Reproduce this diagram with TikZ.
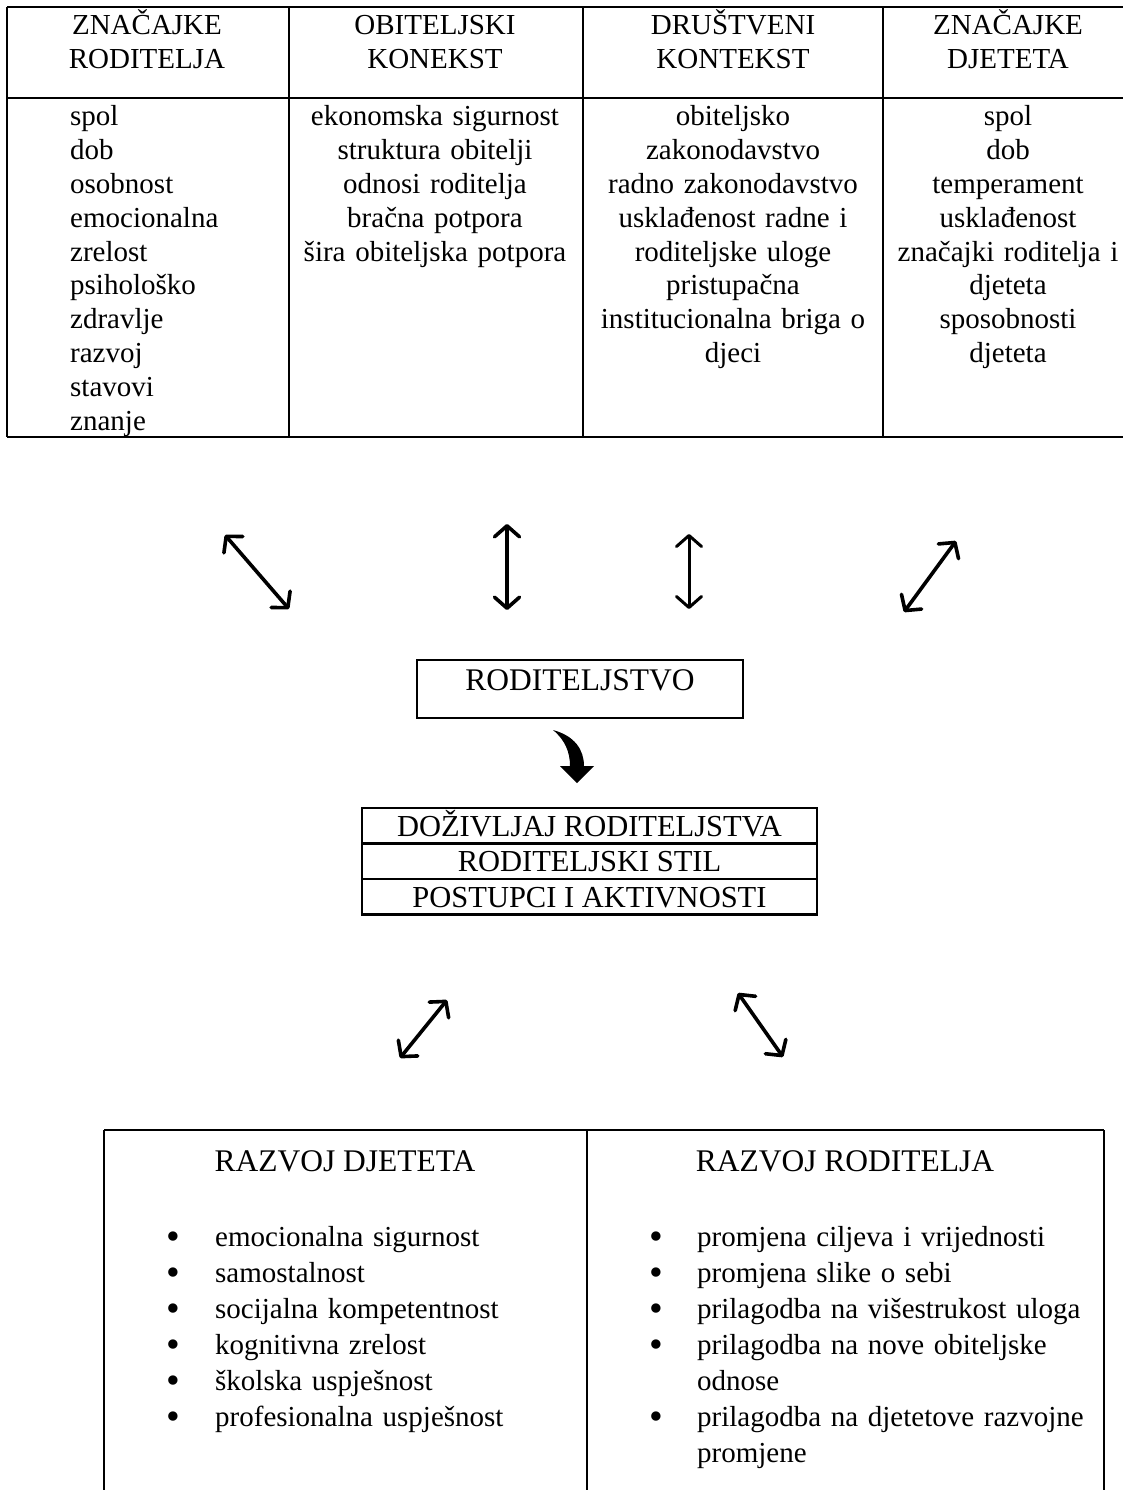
\documentclass[tikz,border=0pt]{standalone}
\usepackage{fontspec}
\usepackage{graphicx}
\setmainfont{Liberation Serif}
\usetikzlibrary{arrows.meta}

% 列表的圆点
\newcommand{\blt}{\raisebox{-3pt}{\scalebox{1.35}{\textbullet}}}

\begin{document}
\begin{tikzpicture}[x=1pt, y=-1pt,
  cell/.style={inner sep=0pt, anchor=base, align=center, font={\fontsize{29}{33.8}\selectfont}},
  head/.style={inner sep=0pt, anchor=base, align=center, font={\fontsize{31.5}{36}\selectfont}},
  item/.style={inner sep=0pt, anchor=base west, align=left, font={\fontsize{29}{36}\selectfont}},
  frame/.style={draw, line width=2.4pt, inner sep=0pt, anchor=base},
  rule/.style={line width=2pt},
  biarrow/.style={{Straight Barb[length=11pt,width=25pt,round]}-{Straight Barb[length=11pt,width=25pt,round]}, line width=3.6pt, line cap=round}]

  % 固定画布大小
  \useasboundingbox (0,0) rectangle (1123,1490);

  % 上方表格的线
  \draw[rule] (7,7) -- (1123,7);
  \draw[rule] (7,98) -- (1123,98);
  \draw[rule] (7,437) -- (1123,437);
  \draw[rule] (7,7) -- (7,437);
  \draw[rule] (289,7) -- (289,437);
  \draw[rule] (583,7) -- (583,437);
  \draw[rule] (883,7) -- (883,437);

  % 表头
  \node[cell, text width=270pt] (hrod) at (147,35) {ZNAČAJKE\\RODITELJA};
  \node[cell, text width=280pt] (hobi) at (435,35) {OBITELJSKI\\KONEKST};
  \node[cell, text width=290pt] (hdru) at (733,35) {DRUŠTVENI\\KONTEKST};
  \node[cell, text width=240pt] (hdje) at (1008,35) {ZNAČAJKE\\DJETETA};

  % 表格内容
  \node[cell, anchor=base west, align=left, text width=210pt] (brod) at (70,126)
    {spol\\dob\\osobnost\\emocionalna\\zrelost\\psihološko\\zdravlje\\razvoj\\stavovi\\znanje};
  \node[cell, text width=280pt] (bobi) at (435,126)
    {ekonomska sigurnost\\struktura obitelji\\odnosi roditelja\\bračna potpora\\šira obiteljska potpora};
  \node[cell, text width=290pt] (bdru) at (733,126)
    {obiteljsko\\zakonodavstvo\\radno zakonodavstvo\\usklađenost radne i\\roditeljske uloge\\pristupačna\\institucionalna briga o\\djeci};
  \node[cell, text width=240pt] (bdje) at (1008,126)
    {spol\\dob\\temperament\\usklađenost\\značajki roditelja i\\djeteta\\sposobnosti\\djeteta};

  % 四个双向箭头
  \coordinate (z1a) at (225,535);
  \coordinate (z1b) at (289,609);
  \coordinate (z2a) at (507,524);
  \coordinate (z2b) at (507,610);
  \coordinate (z3a) at (689,534);
  \coordinate (z3b) at (689,609);
  \coordinate (z4a) at (904,612);
  \coordinate (z4b) at (956,541);
  \draw[biarrow] (z1a) -- (z1b);
  \draw[biarrow] (z2a) -- (z2b);
  \draw[biarrow, line width=3pt] (z3a) -- (z3b);
  \draw[biarrow] (z4a) -- (z4b);

  % 中间的框
  \node[frame, minimum width=326pt, text height=30pt, text depth=28pt,
    font={\fontsize{31.5}{36}\selectfont}] (rod) at (580,690) {RODITELJSTVO};

  % 弯箭头
  \fill (553,730) .. controls (575,736) and (584,750) .. (584,766) -- (594,766)
    -- (577,783) -- (560,766) -- (570,766) .. controls (570,752) and (565,740) .. (553,730) -- cycle;

  % 三行的框
  \node[frame, minimum width=455pt, text height=28pt, text depth=7.5pt,
    font={\fontsize{30.5}{36}\selectfont}] (dozivljaj) at (589.5,836) {DOŽIVLJAJ RODITELJSTVA};
  \node[frame, minimum width=455pt, text height=28pt, text depth=7.5pt,
    font={\fontsize{30.5}{36}\selectfont}] (stil) at (589.5,871.5) {RODITELJSKI STIL};
  \node[frame, minimum width=455pt, text height=28pt, text depth=7.5pt,
    font={\fontsize{30.5}{36}\selectfont}] (postupci) at (589.5,907) {POSTUPCI I AKTIVNOSTI};

  % 下面两个箭头
  \coordinate (d1a) at (400,1058);
  \coordinate (d1b) at (447,1000);
  \coordinate (d2a) at (738,993);
  \coordinate (d2b) at (783,1057);
  \draw[biarrow] (d1a) -- (d1b);
  \draw[biarrow] (d2a) -- (d2b);

  % 下方表格
  \draw[rule] (104,1130) -- (1104,1130);
  \draw[rule] (104,1130) -- (104,1490);
  \draw[rule] (587,1130) -- (587,1490);
  \draw[rule] (1104,1130) -- (1104,1490);

  \node[head] (rdj) at (345,1171) {RAZVOJ DJETETA};
  \node[head] (rro) at (845,1171) {RAZVOJ RODITELJA};

  % 列表
  \node[item, text width=30pt] (tdj) at (166,1246)
    {\blt\\\blt\\\blt\\\blt\\\blt\\\blt};
  \node[item, text width=360pt] (ldj) at (215,1246)
    {emocionalna sigurnost\\samostalnost\\socijalna kompetentnost\\kognitivna zrelost\\školska uspješnost\\profesionalna uspješnost};
  \node[item, text width=30pt] (tro) at (649,1246)
    {\blt\\\blt\\\blt\\\blt\\\mbox{}\\\blt};
  \node[item, text width=400pt] (lro) at (697,1246)
    {promjena ciljeva i vrijednosti\\promjena slike o sebi\\prilagodba na višestrukost uloga\\prilagodba na nove obiteljske\\odnose\\prilagodba na djetetove razvojne\\promjene};
\end{tikzpicture}
\end{document}
